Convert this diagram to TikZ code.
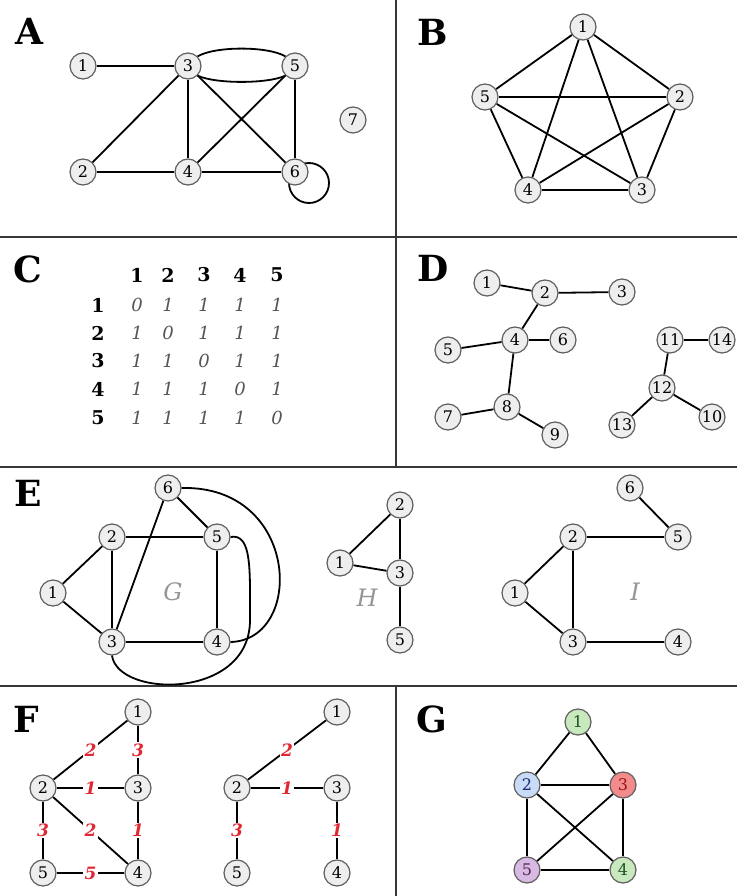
\documentclass[tikz,border=0pt]{standalone}
\usepackage{fontspec}
\setmainfont{DejaVu Serif}
\usetikzlibrary{backgrounds}
\definecolor{frame}{RGB}{55,55,55}
\definecolor{nodeline}{RGB}{95,95,95}
\definecolor{nodefill}{RGB}{238,238,238}
\definecolor{wred}{RGB}{225,40,50}
\definecolor{mgray}{RGB}{85,85,85}
\definecolor{lgray}{RGB}{150,150,150}
\definecolor{cgreen}{RGB}{200,232,190}
\definecolor{cblue}{RGB}{200,220,248}
\definecolor{cred}{RGB}{242,140,140}
\definecolor{cpurple}{RGB}{215,185,225}
\definecolor{tgreen}{RGB}{30,80,30}
\definecolor{tblue}{RGB}{30,40,110}
\definecolor{tred}{RGB}{150,20,20}
\definecolor{tpurple}{RGB}{80,40,90}
\tikzset{
  vx/.style={circle,draw=nodeline,fill=nodefill,line width=1.2pt,minimum size=26pt,inner sep=0pt,font=\fontsize{16}{16}\selectfont},
  ed/.style={line width=1.8pt,black},
  panel/.style={font=\fontsize{36}{36}\selectfont\bfseries,inner sep=0pt},
  divider/.style={line width=2.5pt,frame},
  mhead/.style={font=\fontsize{19}{19}\selectfont\bfseries,inner sep=0pt},
  mval/.style={font=\fontsize{18}{18}\selectfont\itshape,text=mgray,inner sep=0pt},
  glabel/.style={font=\fontsize{24}{24}\selectfont\itshape,text=lgray,inner sep=0pt},
  wlab/.style={fill=white,inner sep=1.5pt,font=\fontsize{17}{17}\selectfont\bfseries\itshape,text=wred},
}
\begin{document}
\begin{tikzpicture}[x=1pt,y=-1pt]
\useasboundingbox (0,0) rectangle (737,896);
% dividers
\coordinate (h1l) at (0,237); \coordinate (h1r) at (737,237);
\coordinate (h2l) at (0,467); \coordinate (h2r) at (737,467);
\coordinate (h3l) at (0,686); \coordinate (h3r) at (737,686);
\coordinate (v1t) at (396,0); \coordinate (v1b) at (396,237);
\coordinate (v2b) at (396,467);
\coordinate (v3t) at (396,686); \coordinate (v3b) at (396,896);
\draw[divider] (h1l) -- (h1r);
\draw[divider] (h2l) -- (h2r);
\draw[divider] (h3l) -- (h3r);
\draw[divider] (v1t) -- (v1b);
\draw[divider] (v1b) -- (v2b);
\draw[divider] (v3t) -- (v3b);
% panel letters
\node[panel] (LA) at (29,31) {A};
\node[panel] (LB) at (433,32) {B};
\node[panel] (LC) at (28,269) {C};
\node[panel] (LD) at (433,268) {D};
\node[panel] (LE) at (28,493) {E};
\node[panel] (LF) at (26,719) {F};
\node[panel] (LG) at (432,719) {G};

% ---------- A ----------
\node[vx] (a1) at (83,66) {1};
\node[vx] (a3) at (188,66) {3};
\node[vx] (a5) at (295,66) {5};
\node[vx] (a7) at (353,120) {7};
\node[vx] (a2) at (83,172) {2};
\node[vx] (a4) at (188,172) {4};
\node[vx] (a6) at (295,172) {6};
\begin{scope}[on background layer]
\fill[white] (0,0) rectangle (737,896);
\draw[ed] (a6) ++(14,11) circle[radius=20];
\end{scope}
\draw[ed] (a1) -- (a3);
\draw[ed] (a3.north east) .. controls (215,46) and (268,46) .. (a5.north west);
\draw[ed] (a3.south east) .. controls (215,84) and (268,84) .. (a5.south west);
\draw[ed] (a3) -- (a2);
\draw[ed] (a3) -- (a4);
\draw[ed] (a3) -- (a6);
\draw[ed] (a5) -- (a4);
\draw[ed] (a5) -- (a6);
\draw[ed] (a2) -- (a4);
\draw[ed] (a4) -- (a6);

% ---------- B ----------
\node[vx] (b1) at (583,27) {1};
\node[vx] (b5) at (485,97) {5};
\node[vx] (b2) at (680,97) {2};
\node[vx] (b4) at (528,190) {4};
\node[vx] (b3) at (642,190) {3};
\foreach \u/\v in {b1/b2,b1/b3,b1/b4,b1/b5,b2/b3,b2/b4,b2/b5,b3/b4,b3/b5,b4/b5}
  \draw[ed] (\u) -- (\v);

% ---------- C ----------
\foreach \c/\x in {1/137,2/168,3/204,4/240,5/277}
  \node[mhead] (mh\c) at (\x,275) {\c};
\foreach \r/\y in {1/305,2/333,3/361,4/389,5/418}{
  \node[mhead] (mr\r) at (98,\y) {\r};
  \foreach \c/\x in {1/137,2/168,3/204,4/240,5/277}{
    \ifnum\r=\c
      \node[mval] (m\r\c) at (\x,\y) {0};
    \else
      \node[mval] (m\r\c) at (\x,\y) {1};
    \fi
  }
}

% ---------- D ----------
\node[vx] (d1) at (487,283) {1};
\node[vx] (d2) at (545,293) {2};
\node[vx] (d3) at (622,292) {3};
\node[vx] (d4) at (515,340) {4};
\node[vx] (d5) at (448,350) {5};
\node[vx] (d6) at (563,340) {6};
\node[vx] (d7) at (448,417) {7};
\node[vx] (d8) at (507,407) {8};
\node[vx] (d9) at (555,435) {9};
\node[vx] (d11) at (670,340) {11};
\node[vx] (d14) at (722,340) {14};
\node[vx] (d12) at (662,388) {12};
\node[vx] (d13) at (622,425) {13};
\node[vx] (d10) at (712,417) {10};
\foreach \u/\v in {d1/d2,d2/d3,d2/d4,d4/d5,d4/d6,d4/d8,d8/d7,d8/d9,d11/d14,d11/d12,d12/d13,d12/d10}
  \draw[ed] (\u) -- (\v);

% ---------- E : G ----------
\node[vx] (g6) at (168,488) {6};
\node[vx] (g2) at (112,537) {2};
\node[vx] (g5) at (217,537) {5};
\node[vx] (g1) at (53,593) {1};
\node[vx] (g3) at (112,642) {3};
\node[vx] (g4) at (217,642) {4};
\node[glabel] (gG) at (173,592) {G};
\foreach \u/\v in {g1/g2,g1/g3,g2/g3,g2/g5,g3/g6,g6/g5,g5/g4,g3/g4}
  \draw[ed] (\u) -- (\v);
\coordinate (gc1) at (250,620);
\draw[ed] (g6.east) .. controls (300,485) and (305,640) .. (g4.east);
\draw[ed] (g5.east) .. controls (252,533) and (250,570) .. (gc1) .. controls (250,700) and (118,698) .. (g3.south);

% ---------- E : H ----------
\node[vx] (h2) at (400,505) {2};
\node[vx] (h1) at (340,563) {1};
\node[vx] (h3) at (400,573) {3};
\node[vx] (h5) at (400,640) {5};
\node[glabel] (hH) at (367,598) {H};
\foreach \u/\v in {h1/h2,h2/h3,h1/h3,h3/h5}
  \draw[ed] (\u) -- (\v);

% ---------- E : I ----------
\node[vx] (i6) at (630,488) {6};
\node[vx] (i2) at (573,537) {2};
\node[vx] (i5) at (678,537) {5};
\node[vx] (i1) at (515,593) {1};
\node[vx] (i3) at (573,642) {3};
\node[vx] (i4) at (678,642) {4};
\node[glabel] (iI) at (635,592) {I};
\foreach \u/\v in {i6/i5,i2/i5,i1/i2,i1/i3,i2/i3,i3/i4}
  \draw[ed] (\u) -- (\v);

% ---------- F ----------
\node[vx] (f1) at (138,712) {1};
\node[vx] (f2) at (43,788) {2};
\node[vx] (f3) at (138,788) {3};
\node[vx] (f5) at (43,873) {5};
\node[vx] (f4) at (138,873) {4};
\draw[ed] (f1) -- node[wlab]{2} (f2);
\draw[ed] (f1) -- node[wlab]{3} (f3);
\draw[ed] (f2) -- node[wlab]{1} (f3);
\draw[ed] (f2) -- node[wlab]{3} (f5);
\draw[ed] (f2) -- node[wlab]{2} (f4);
\draw[ed] (f3) -- node[wlab]{1} (f4);
\draw[ed] (f5) -- node[wlab]{5} (f4);

\node[vx] (k1) at (337,712) {1};
\node[vx] (k2) at (237,788) {2};
\node[vx] (k3) at (337,788) {3};
\node[vx] (k5) at (237,873) {5};
\node[vx] (k4) at (337,873) {4};
\draw[ed] (k1) -- node[wlab]{2} (k2);
\draw[ed] (k2) -- node[wlab]{1} (k3);
\draw[ed] (k2) -- node[wlab]{3} (k5);
\draw[ed] (k3) -- node[wlab]{1} (k4);

% ---------- G ----------
\node[vx,fill=cgreen,text=tgreen] (c1) at (578,722) {1};
\node[vx,fill=cblue,text=tblue] (c2) at (527,785) {2};
\node[vx,fill=cred,text=tred] (c3) at (623,785) {3};
\node[vx,fill=cpurple,text=tpurple] (c5) at (527,870) {5};
\node[vx,fill=cgreen,text=tgreen] (c4) at (623,870) {4};
\foreach \u/\v in {c1/c2,c1/c3,c2/c3,c2/c5,c2/c4,c3/c5,c3/c4,c5/c4}
  \draw[ed] (\u) -- (\v);
\end{tikzpicture}
\end{document}
